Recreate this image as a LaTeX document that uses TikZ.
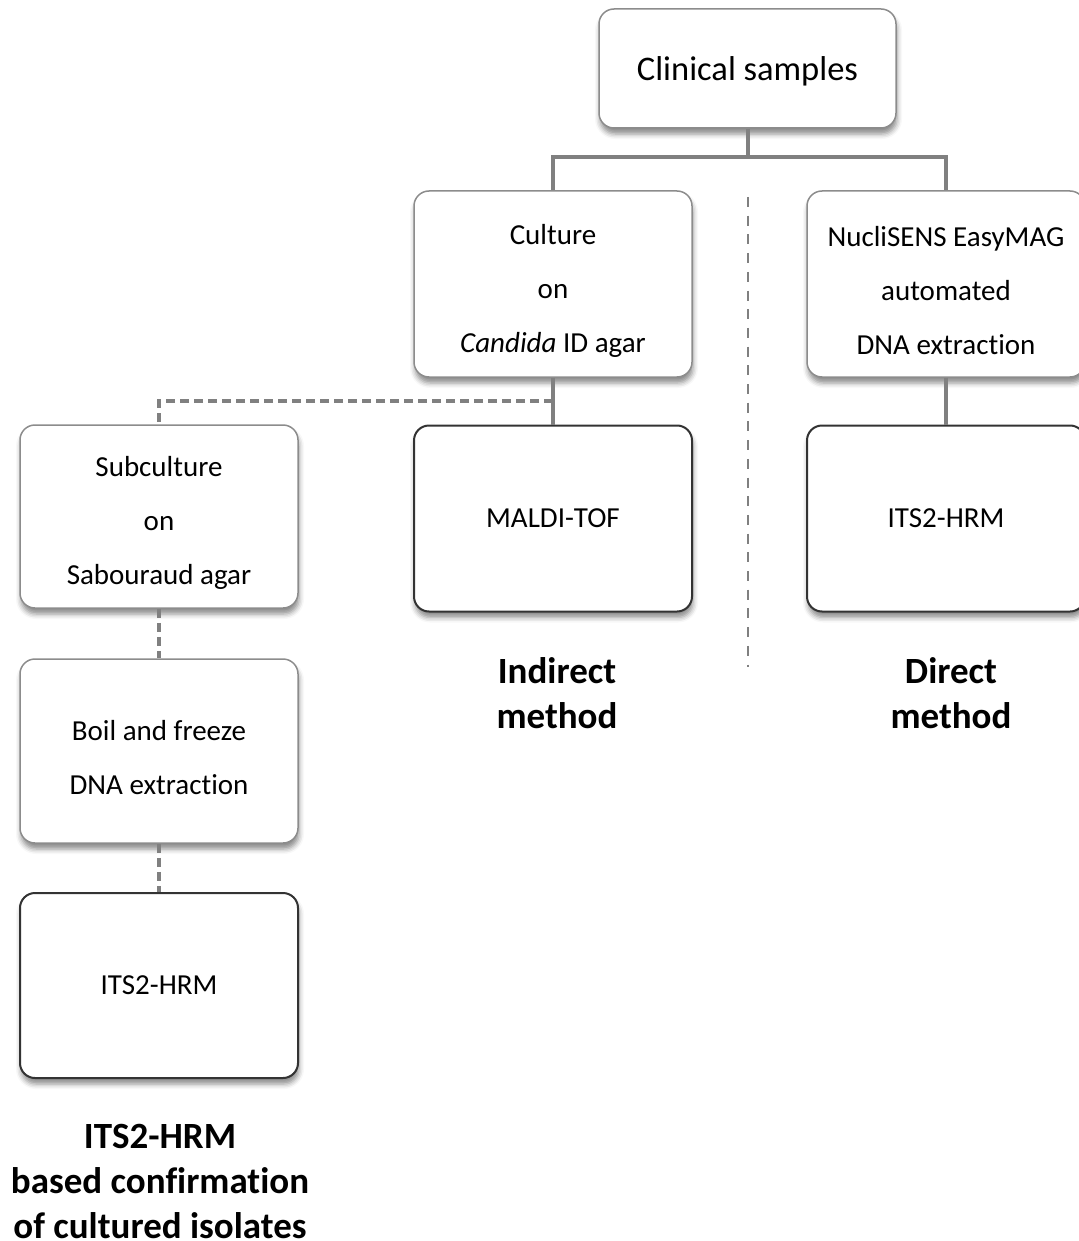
\documentclass[tikz,border=0pt]{standalone}
\usepackage{fontspec}
\setmainfont{Carlito}[Ligatures={NoCommon}]
\usetikzlibrary{shadows.blur}
\definecolor{linegray}{RGB}{128,128,128}
\newcommand\topstrut{\rule{0pt}{33pt}}
\tikzset{
  stepbox/.style={draw=black!45, line width=1.5pt, fill=white, rounded corners=15pt,
    minimum width=278pt, minimum height=186pt, align=center,
    font=\fontsize{29}{54}\selectfont,
    blur shadow={shadow xshift=1pt, shadow yshift=-6pt, shadow blur radius=5pt, shadow opacity=45}},
  resultbox/.style={stepbox, draw=black!80, line width=2pt},
  headline/.style={align=center, font=\bfseries\fontsize{37}{45}\selectfont},
  solidlink/.style={draw=linegray, line width=4pt},
  dashlink/.style={draw=linegray, line width=4pt, dash pattern=on 9pt off 5pt},
}
\begin{document}
\begin{tikzpicture}[x=1pt,y=-1pt]
\useasboundingbox (0,0) rectangle (1078,1241);
% the top node
\node (clin) [stepbox, minimum width=297pt, minimum height=119pt, font=\fontsize{34.5}{40}\selectfont] at (747.5,68.5) {\rule{0pt}{29pt}Clinical samples};
% first row
\node (cult) [stepbox] at (553,284) {\topstrut Culture\\on\\\textit{Candida} ID agar};
\node (easy) [stepbox] at (946,284) {\topstrut NucliSENS EasyMAG\\automated\\DNA extraction};
% second row
\node (sub) [stepbox, minimum height=183pt] at (159,516.5) {\topstrut Subculture\\on\\Sabouraud agar};
\node (maldi) [resultbox] at (553,518.5) {MALDI-TOF};
\node (hrmr) [resultbox] at (946,518.5) {ITS2-HRM};
% left column
\node (boil) [stepbox, minimum height=184pt] at (159,751) {\topstrut Boil and freeze\\DNA extraction};
\node (hrml) [resultbox, minimum height=185pt] at (159,985.5) {ITS2-HRM};
% the labels
\node (indir) [headline] at (557,693) {Indirect\\method};
\node (dir) [headline] at (951,693) {Direct\\method};
\node (conf) [headline] at (160,1181) {ITS2-HRM\\based confirmation\\of cultured isolates};
% solid links
\coordinate (fork) at (747.5,157);
\draw[solidlink] (clin.south) -- (fork);
\draw[solidlink] (cult.north) |- (fork) -| (easy.north);
\draw[solidlink] (cult.south) -- (maldi.north);
\draw[solidlink] (easy.south) -- (hrmr.north);
% dashed links
\coordinate (split) at (553,401);
\draw[dashlink] (split) -| (sub.north);
\draw[dashlink] (sub.south) -- (boil.north);
\draw[dashlink] (boil.south) -- (hrml.north);
% the separator
\coordinate (septop) at (747.5,197);
\coordinate (sepbot) at (747.5,667);
\draw[linegray, line width=2pt, dash pattern=on 10pt off 8.7pt] (septop) -- (sepbot);
\end{tikzpicture}
\end{document}
